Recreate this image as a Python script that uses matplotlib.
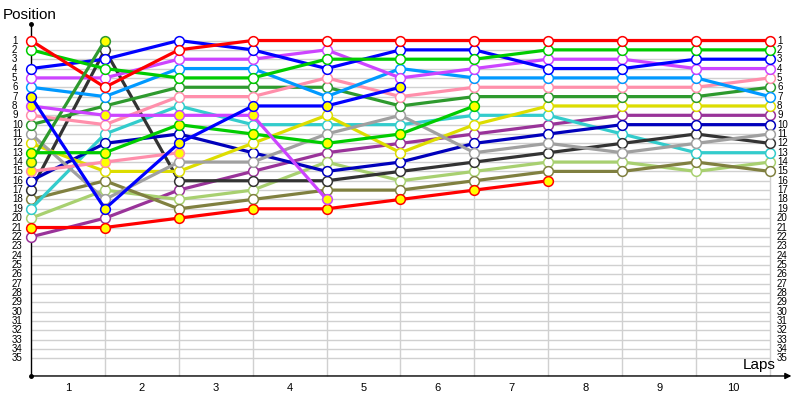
import matplotlib
matplotlib.use('Agg')
import matplotlib.pyplot as plt
import numpy as np

plt.rcParams['font.family'] = ['Liberation Sans', 'DejaVu Sans']

# positions at the end of each lap (index 0 = grid), lines that stop are shorter
laps = list(range(11))
red = [1, 6, 2, 1, 1, 1, 1, 1, 1, 1, 1]
green = [2, 4, 5, 5, 3, 3, 3, 2, 2, 2, 2]
blue = [4, 3, 1, 2, 4, 2, 2, 4, 4, 3, 3]
violet = [5, 5, 3, 3, 2, 5, 4, 3, 3, 4, 4]
lightblue = [6, 7, 4, 4, 7, 4, 5, 5, 5, 5, 7]
pink = [9, 10, 7, 7, 5, 7, 6, 6, 6, 6, 5]
darkgreen = [10, 8, 6, 6, 6, 8, 7, 7, 7, 7, 6]
gray = [11, 18, 14, 14, 11, 9, 13, 12, 13, 12, 11]
yellow = [12, 15, 15, 12, 9, 13, 10, 8, 8, 8, 8]
darkblue = [16, 12, 11, 13, 15, 14, 12, 11, 10, 10, 10]
black = [17, 2, 16, 16, 16, 15, 14, 13, 12, 11, 12]
olive = [18, 16, 19, 18, 17, 17, 16, 15, 15, 14, 15]
cyan = [19, 11, 8, 10, 10, 10, 9, 9, 11, 13, 13]
lightgreen = [20, 17, 18, 17, 14, 16, 15, 14, 14, 15, 14]
purple = [22, 20, 17, 15, 13, 12, 11, 10, 9, 9, 9]
# retired cars (yellow markers)
blue_out = [7, 19, 12, 8, 8, 6]
violet_out = [8, 9, 9, 9, 18]
green_out = [13, 13, 10, 11, 12, 11, 8]
darkgreen_out = [14, 1]
pink_out = [15, 14, 13]
red_out = [21, 21, 20, 19, 19, 18, 17, 16]

positions = list(range(1, 36))
lap_labels = [str(i) for i in range(1, 11)]

series = [
    (purple, '#993399', False), (lightgreen, '#a8d070', False),
    (olive, '#808040', False), (cyan, '#33cccc', False),
    (black, '#333333', False), (darkblue, '#0000bb', False),
    (yellow, '#dddd00', False), (gray, '#a0a0a0', False),
    (darkgreen, '#2e9a2e', False), (pink, '#ff8fab', False),
    (lightblue, '#0099ff', False), (violet, '#cc44ff', False),
    (blue, '#0000ff', False), (green, '#00cc00', False),
    (red, '#ff0000', False),
    (red_out, '#ff0000', True), (pink_out, '#ff8fab', True),
    (darkgreen_out, '#2e9a2e', True), (green_out, '#00cc00', True),
    (violet_out, '#cc44ff', True), (blue_out, '#0000ff', True),
]

fig = plt.figure(figsize=(8, 4), dpi=100)
ax = fig.add_axes([0, 0, 1, 1])
ax.set_xlim(-0.4195, 10.406)
ax.set_ylim(39.449, -3.332)
ax.axis('off')

bottom = 36.88
# grid
ax.hlines(positions, 0, 10, color='#d0d0d0', lw=1, zorder=1)
ax.vlines(laps[1:], 1, bottom, color='#d0d0d0', lw=1, zorder=1)

# axes with arrows
ax.plot([0, 0], [-0.765, bottom], color='black', lw=1, zorder=2)
ax.plot([0, 0], [-0.765, bottom], 'o', color='black', ms=2.5, zorder=2)
ax.annotate('', xy=(10.29, bottom), xytext=(0, bottom),
            arrowprops=dict(arrowstyle='-|>', color='black', lw=1,
                            mutation_scale=9, shrinkA=0, shrinkB=0))

for pos, col, out in series:
    ax.plot(laps[:len(pos)], pos, '-o', color=col, lw=2.3, ms=7,
            mfc='#ffff00' if out else 'white', mec=col, mew=1.1,
            zorder=3, clip_on=False)

for p in positions:
    ax.text(-0.257, p, str(p), ha='left', va='center', fontsize=7)
    ax.text(10.095, p, str(p), ha='left', va='center', fontsize=7)

for i, lab in enumerate(lap_labels):
    ax.text(i + 0.5, 38.2, lab, ha='center', va='center', fontsize=8)

ax.text(-0.38, -1.73, 'Position', ha='left', va='center', fontsize=11)
ax.text(10.07, 35.75, 'Laps', ha='right', va='center', fontsize=11)

fig.savefig('out.png', dpi=100)
